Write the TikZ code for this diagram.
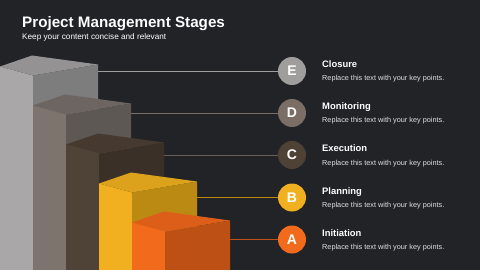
\documentclass[tikz,border=0pt]{standalone}
\usepackage{fontspec}
\setmainfont{Liberation Sans}
\begin{document}
\begin{tikzpicture}[x=1pt,y=-1pt,
  ttl/.style={anchor=base west,inner sep=0pt,text=white,font=\bfseries\fontsize{15.2}{18}\selectfont},
  sub/.style={anchor=base west,inner sep=0pt,text=white,font=\fontsize{8.2}{9}\selectfont},
  lbl/.style={anchor=base west,inner sep=0pt,text=white,font=\bfseries\fontsize{9.4}{11}\selectfont},
  dsc/.style={anchor=base west,inner sep=0pt,text=white!88!black,font=\fontsize{7.3}{9}\selectfont},
  badge/.style={circle,minimum size=28pt,inner sep=0pt,text=white,font=\bfseries\fontsize{14}{16}\selectfont},
  conn/.style={line width=0.9pt}]
\definecolor{bg}{HTML}{222327}
\definecolor{eL}{HTML}{A9A7A7}\definecolor{eR}{HTML}{7E7D7D}\definecolor{eT}{HTML}{949292}
\definecolor{dL}{HTML}{7D746E}\definecolor{dR}{HTML}{5E5854}\definecolor{dT}{HTML}{6C6561}
\definecolor{cL}{HTML}{4F4338}\definecolor{cR}{HTML}{3B3027}\definecolor{cT}{HTML}{463A30}
\definecolor{bL}{HTML}{F0B020}\definecolor{bR}{HTML}{BA8A12}\definecolor{bT}{HTML}{DDA21C}
\definecolor{aL}{HTML}{F26B1D}\definecolor{aR}{HTML}{BD5014}\definecolor{aT}{HTML}{DC5E18}
\definecolor{eC}{HTML}{A09E9D}\definecolor{dC}{HTML}{7A6E66}\definecolor{cC}{HTML}{4E4236}
\fill[bg] (0,0) rectangle (480,270);
\useasboundingbox (0,0) rectangle (480,270);
\node[ttl] (title) at (22,27.5) {Project Management Stages};
\node[sub] (subtitle) at (22,40) {Keep your content concise and relevant};
% bars: front corner F=(fx,fy)
\foreach \i/\c in {0/e,1/d,2/c,3/b,4/a}{
  \pgfmathsetmacro{\fx}{33+33*\i}
  \pgfmathsetmacro{\fy}{75.5+39*\i}
  \fill[\c L] (\fx-33,\fy-9) -- (\fx,\fy) -- (\fx,270) -- (\fx-33,270) -- cycle;
  \fill[\c R] (\fx,\fy) -- (\fx+65,\fy-11) -- (\fx+65,270) -- (\fx,270) -- cycle;
  \fill[\c T] (\fx-33,\fy-9) -- (\fx-1,\fy-20) -- (\fx+65,\fy-11) -- (\fx,\fy) -- cycle;
}
% badges
\node[badge,fill=eC] (E) at (292,71) {E};
\node[badge,fill=dC] (D) at (292,113) {D};
\node[badge,fill=cC] (C) at (292,155) {C};
\node[badge,fill=bL] (B) at (292,197.5) {B};
\node[badge,fill=aL] (A) at (292,239.5) {A};
\coordinate (e0) at (98,71);
\coordinate (d0) at (131,113);
\coordinate (c0) at (164,155);
\coordinate (b0) at (197,197.5);
\coordinate (a0) at (230,239.5);
\draw[conn,eC] (e0) -- (E);
\draw[conn,dC] (d0) -- (D);
\draw[conn,cC!85!white] (c0) -- (C);
\draw[conn,bR] (b0) -- (B);
\draw[conn,aR] (a0) -- (A);
% labels
\foreach \n/\t/\y in {E/Closure/71,D/Monitoring/113,C/Execution/155,B/Planning/197.5,A/Initiation/239.5}{
  \node[lbl] (t\n) at (322,\y-3) {\t};
  \node[dsc] (s\n) at (322,\y+10) {Replace this text with your key points.};
}
\end{tikzpicture}
\end{document}
